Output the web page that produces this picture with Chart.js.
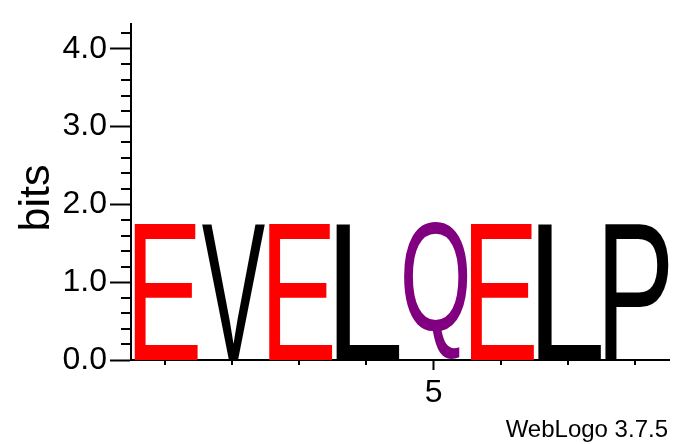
<!DOCTYPE html>
<html>
<head>
<meta charset="utf-8">
<script src="https://cdn.jsdelivr.net/npm/chart.js@4.4.1/dist/chart.umd.min.js"></script>
<style>
  html, body { margin: 0; padding: 0; background: #fff; }
  #logo { display: block; }
</style>
</head>
<body>
<canvas id="logo" width="694" height="444"></canvas>
<script>
// sequence logo data (bits per position)
const positions = ['1', '2', '3', '4', '5', '6', '7', '8'];
const letters = ['E', 'V', 'E', 'L', 'Q', 'E', 'L', 'P'];
const bits = [1.76, 1.76, 1.76, 1.76, 1.76, 1.76, 1.76, 1.76];
const xTickLabels = ['', '', '', '', '5', '', '', ''];
const yMajorTicks = [0, 1, 2, 3, 4];
const yMinorTicks = [0.2, 0.4, 0.6, 0.8, 1.2, 1.4, 1.6, 1.8, 2.2, 2.4, 2.6, 2.8, 3.2, 3.4, 3.6, 3.8, 4.2];
const yMax = 4.32; // log2(20)

// WebLogo "chemistry" colours
const colorScheme = {
  D: '#ff0000', E: '#ff0000',
  N: '#800080', Q: '#800080',
  K: '#0000ff', R: '#0000ff', H: '#0000ff',
  G: '#008000', S: '#008000', T: '#008000', Y: '#008000', C: '#008000',
  A: '#000000', V: '#000000', L: '#000000', I: '#000000', P: '#000000',
  W: '#000000', F: '#000000', M: '#000000'
};

const FONT = '"Liberation Sans", Arial, Helvetica, sans-serif';
Chart.defaults.font.family = FONT;
Chart.defaults.color = '#000';

// draws each letter stretched to fill its bar
const glyphPlugin = {
  id: 'glyphs',
  afterDatasetsDraw(chart) {
    const ctx = chart.ctx;
    const meta = chart.getDatasetMeta(0);
    ctx.save();
    ctx.font = '100px ' + FONT;
    ctx.textAlign = 'left';
    ctx.textBaseline = 'alphabetic';
    meta.data.forEach((bar, i) => {
      const { x, y, base, width } = bar.getProps(['x', 'y', 'base', 'width'], true);
      const ch = letters[i];
      const m = ctx.measureText(ch);
      const gw = m.actualBoundingBoxLeft + m.actualBoundingBoxRight;
      const gh = m.actualBoundingBoxAscent + m.actualBoundingBoxDescent;
      const left = x - width / 2 + 3.5;
      const right = x + width / 2;
      ctx.save();
      ctx.translate(left, y);
      ctx.scale((right - left) / gw, (base - y) / gh);
      ctx.fillStyle = colorScheme[ch] || '#000';
      ctx.fillText(ch, m.actualBoundingBoxLeft, m.actualBoundingBoxAscent);
      ctx.restore();
    });
    ctx.restore();
  }
};

// short minor ticks and the version stamp
const extrasPlugin = {
  id: 'extras',
  afterDraw(chart) {
    const ctx = chart.ctx;
    const xs = chart.scales.x;
    const ys = chart.scales.y;
    ctx.save();
    ctx.strokeStyle = '#000';
    ctx.lineWidth = 2;
    ctx.beginPath();
    yMinorTicks.forEach(v => {
      const py = Math.round(ys.getPixelForValue(v));
      ctx.moveTo(ys.right - 10, py);
      ctx.lineTo(ys.right, py);
    });
    positions.forEach((p, i) => {
      if (xTickLabels[i]) return;
      const px = Math.round(xs.getPixelForValue(i));
      ctx.moveTo(px, xs.top);
      ctx.lineTo(px, xs.top + 5);
    });
    ctx.stroke();

    ctx.fillStyle = '#000';
    ctx.font = '24px ' + FONT;
    ctx.textAlign = 'right';
    ctx.textBaseline = 'alphabetic';
    ctx.fillText('WebLogo 3.7.5', 668, 437);
    ctx.restore();
  }
};

new Chart(document.getElementById('logo'), {
  type: 'bar',
  data: {
    labels: positions,
    datasets: [{
      data: bits,
      backgroundColor: 'rgba(0,0,0,0)',
      borderWidth: 0,
      barPercentage: 1,
      categoryPercentage: 1
    }]
  },
  options: {
    responsive: false,
    animation: false,
    layout: { padding: { top: 24, right: 25, left: 0, bottom: 0 } },
    plugins: {
      legend: { display: false },
      tooltip: { enabled: false }
    },
    scales: {
      x: {
        type: 'category',
        offset: true,
        grid: {
          offset: false,
          drawOnChartArea: false,
          tickLength: 10,
          tickWidth: 2,
          tickColor: c => (xTickLabels[c.index] ? '#000' : 'rgba(0,0,0,0)')
        },
        border: { color: '#000', width: 2 },
        ticks: {
          autoSkip: false,
          maxRotation: 0,
          padding: 4,
          font: { size: 32 },
          callback: (v, i) => xTickLabels[i]
        },
        afterFit: s => { s.height = 84; }
      },
      y: {
        min: 0,
        max: yMax,
        afterBuildTicks: s => { s.ticks = yMajorTicks.map(v => ({ value: v })); },
        grid: {
          drawOnChartArea: false,
          tickLength: 21,
          tickWidth: 2,
          tickColor: '#000'
        },
        border: { color: '#000', width: 2 },
        ticks: {
          padding: 3,
          font: { size: 32 },
          callback: v => v.toFixed(1)
        },
        title: {
          display: true,
          // trailing space nudges the word slightly below the axis centre, as in WebLogo
          text: 'bits ',
          font: { size: 43 },
          padding: { top: 11, bottom: 0 }
        },
        afterFit: s => { s.width = 131; }
      }
    }
  },
  plugins: [glyphPlugin, extrasPlugin]
});
</script>
</body>
</html>
